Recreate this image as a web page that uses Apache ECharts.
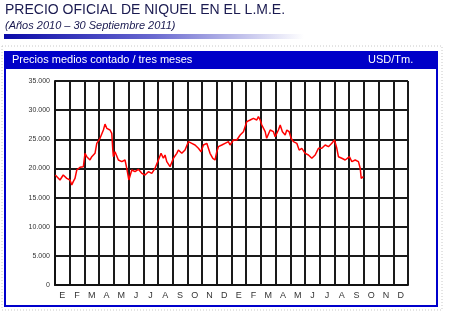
<!DOCTYPE html>
<html>
<head>
<meta charset="utf-8">
<script src="https://cdn.jsdelivr.net/npm/echarts@6/dist/echarts.min.js"></script>
<style>
html,body{margin:0;padding:0;background:#fff;}
#chart{width:450px;height:313px;}
</style>
</head>
<body>
<div id="chart"></div>
<script>
// Month tick labels (Jan 2010 .. Dec 2011)
var monthLabels = ['E','F','M','A','M','J','J','A','S','O','N','D','E','F','M','A','M','J','J','A','S','O','N','D'];
// Position of each observation in months since 1 Jan 2010
var monthPos = [0.02,0.12,0.34,0.46,0.56,0.68,0.80,0.90,1.02,1.14,1.24,1.36,1.48,1.59,1.70,1.82,1.93,
  2.04,2.16,2.27,2.38,2.50,2.61,2.72,2.84,2.95,3.06,3.18,3.29,3.40,3.52,3.63,3.74,3.86,3.93,3.97,
  4.08,4.20,4.31,4.42,4.54,4.65,4.76,4.88,5.02,5.22,5.44,5.67,5.90,6.12,6.35,6.58,6.80,
  7.03,7.21,7.37,7.48,7.60,7.82,8.05,8.28,8.39,8.62,8.84,9.07,9.30,9.52,9.75,9.93,
  10.09,10.32,10.54,10.73,10.88,11.00,11.11,11.34,11.56,11.79,11.90,12.13,12.36,12.59,12.81,
  13.04,13.27,13.49,13.72,13.83,13.95,14.06,14.29,14.39,14.63,14.85,14.97,15.19,15.31,15.46,
  15.65,15.76,15.92,16.05,16.21,16.44,16.60,16.78,17.01,17.23,17.46,17.69,17.91,18.14,18.37,
  18.59,18.82,19.00,19.16,19.27,19.50,19.73,19.84,20.02,20.18,20.41,20.63,20.75,20.82,20.97];
// LME nickel cash price, USD/t
var prices = [18870,18590,18020,18300,18870,18590,18300,18190,18020,17160,17730,18300,19730,20020,20190,20020,20300,
  22590,22010,21740,21450,22010,21740,22590,24310,24590,25170,25440,26590,27600,26880,27160,26590,26020,23160,22010,
  22870,22590,21450,21450,21160,21450,21450,20020,18020,19730,19440,19850,19160,18870,19440,19160,20020,
  21450,22590,21740,22300,21160,20300,21740,22590,23160,22590,23160,24590,24310,24020,23450,22870,
  24020,24310,22590,21740,21450,22870,23730,24020,24310,24590,24020,24880,24880,25740,26300,
  28020,28310,28600,28310,28880,28310,27450,26300,25170,26590,26300,25440,26590,27450,26300,
  25740,26590,26300,25170,24590,24310,23160,23450,22590,22300,21740,22300,23450,23450,24020,
  23730,24310,24880,23450,22010,21740,21450,21160,22010,21160,21450,21160,20020,18300,18590];

var data = monthPos.map(function(m,i){return [m, prices[i]];});

var chart = echarts.init(document.getElementById('chart'), null, {renderer:'canvas'});
chart.setOption({
  backgroundColor:'#ffffff',
  animation:false,
  grid:{left:55,right:42,top:81,bottom:28,containLabel:false},
  graphic:[
    {type:'rect',shape:{x:2,y:46,width:440,height:264},style:{fill:'none',stroke:'#c8c8c8',lineWidth:1,lineDash:[1,2]},z:-1},
    {type:'rect',shape:{x:4,y:34,width:300,height:5},style:{fill:new echarts.graphic.LinearGradient(0,0,1,0,[{offset:0,color:'#0a0aa8'},{offset:0.5,color:'#6a6ad0'},{offset:1,color:'#ffffff'}])}},
    {type:'text',left:5,top:3,style:{text:'PRECIO OFICIAL DE NIQUEL EN EL L.M.E.',font:'14px "Liberation Sans", Arial, sans-serif',fill:'#1a1a50'}},
    {type:'text',left:5,top:20,style:{text:'(Años 2010 – 30 Septiembre 2011)',font:'italic 11px "Liberation Sans", Arial, sans-serif',fill:'#1a1a50'}},
    {type:'rect',shape:{x:5,y:52,width:432,height:254},style:{fill:'none',stroke:'#0000cc',lineWidth:2}},
    {type:'rect',shape:{x:5,y:52,width:432,height:17},style:{fill:'#0000c8'}},
    {type:'text',left:12,top:54,style:{text:'Precios medios contado / tres meses',font:'11px "Liberation Sans", Arial, sans-serif',fill:'#ffffff'}},
    {type:'text',left:368,top:54,style:{text:'USD/Tm.',font:'11px "Liberation Sans", Arial, sans-serif',fill:'#ffffff'}}
  ],
  xAxis:[
    {type:'value',min:0,max:24,interval:1,
     axisLine:{show:true,lineStyle:{color:'#111',width:2}},
     axisTick:{show:false},axisLabel:{show:false},
     splitLine:{show:true,lineStyle:{color:'#1a1a1a',width:2}}},
    {type:'category',position:'bottom',data:monthLabels,boundaryGap:true,
     axisLine:{show:false},axisTick:{show:false},
     axisLabel:{show:true,interval:0,margin:6,color:'#333',fontSize:9,fontFamily:'"Liberation Sans", Arial, sans-serif'},
     splitLine:{show:false}}
  ],
  yAxis:{type:'value',min:0,max:35000,interval:5000,
    axisLine:{show:true,lineStyle:{color:'#111',width:2}},
    axisTick:{show:false},
    axisLabel:{color:'#333',fontSize:7,margin:5,fontFamily:'"Liberation Sans", Arial, sans-serif',
      formatter:function(v){return v===0?'0':(v/1000)+'.000';}},
    splitLine:{show:true,lineStyle:{color:'#1a1a1a',width:2}}},
  series:[{type:'line',xAxisIndex:0,data:data,showSymbol:false,symbol:'none',
    lineStyle:{color:'#ff0000',width:1.5},z:5}]
});
</script>
</body>
</html>
